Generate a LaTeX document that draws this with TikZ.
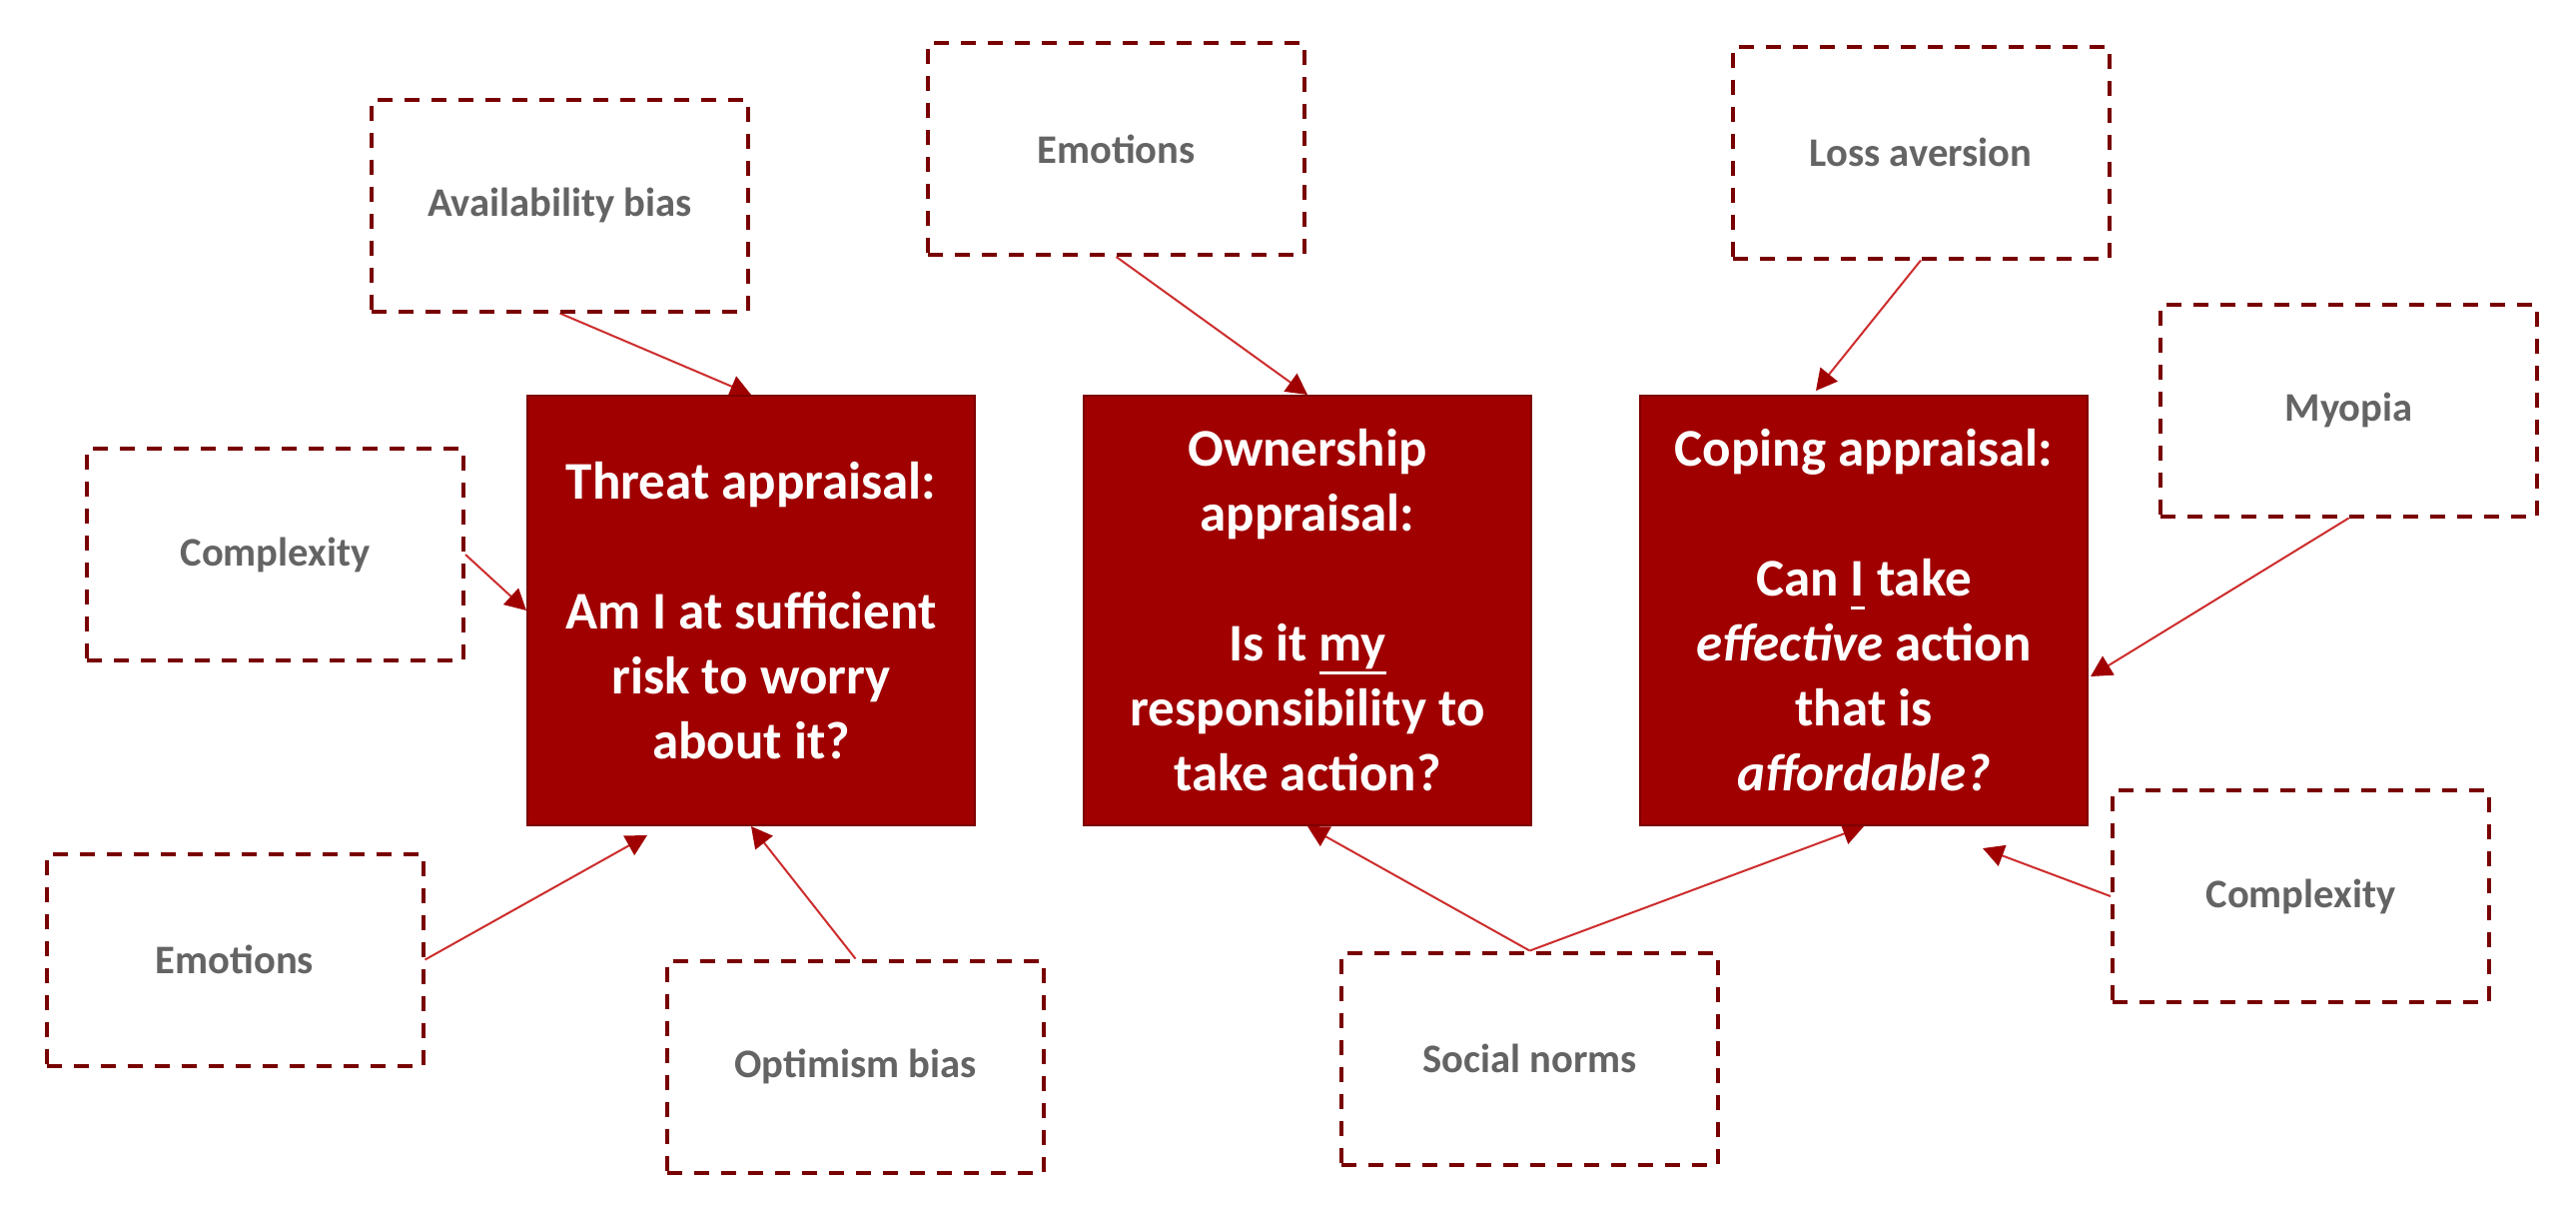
\documentclass[tikz,border=0pt]{standalone}
\usepackage{fontspec}
\setmainfont{Carlito}
\usetikzlibrary{arrows.meta}
\definecolor{mainred}{RGB}{160,0,0}
\definecolor{edgered}{RGB}{125,0,0}
\definecolor{dashred}{RGB}{120,0,0}
\definecolor{linered}{RGB}{205,45,45}
\definecolor{labelgray}{RGB}{100,100,100}
\pgfdeclarelayer{bg}
\pgfsetlayers{bg,main}
\newsavebox{\ulbox}
\newcommand{\ulin}[1]{\sbox{\ulbox}{#1}\rlap{\rule[-0.25em]{\wd\ulbox}{0.065em}}\usebox{\ulbox}}
\begin{document}
\begin{tikzpicture}[x=0.5pt,y=-0.5pt,
  mainbox/.style={draw=edgered, line width=1pt, fill=mainred, text=white,
    minimum width=224pt, minimum height=215pt, inner sep=0pt, align=center,
    font=\fontsize{26.5}{32.5}\selectfont\bfseries},
  dashbox/.style={draw=dashred, line width=2pt, dash pattern=on 7.5pt off 6pt,
    fill=white, minimum width=188.5pt, minimum height=106pt, inner sep=0pt,
    text=labelgray, font=\fontsize{20.3}{24}\selectfont\bfseries},
  conn/.style={draw=linered, line width=1pt,
    -{Triangle[length=10.5pt,width=11pt,color=mainred]}}]
\useasboundingbox (0,0) rectangle (2579,1207);

% main appraisal boxes
\node[mainbox] (threat) at (752,611)
  {Threat appraisal:\\[32.5pt]Am I at sufficient\\risk to worry\\about it?};
\node[mainbox] (owner) at (1309,611)
  {Ownership\\appraisal:\\[32.5pt]Is it \ulin{my}\\responsibility to\\take action?};
\node[mainbox] (coping) at (1866,611)
  {Coping appraisal:\\[32.5pt]Can \ulin{I} take\\\textit{effective} action\\that is\\\textit{affordable?}};

% influencing factors
\node[dashbox] (avail)  at (560.5,205.5) {Availability bias};
\node[dashbox] (emotop) at (1117.5,149)  {Emotions};
\node[dashbox] (compL)  at (275.5,555)   {Complexity};
\node[dashbox] (emoBL)  at (235,960.5)   {Emotions};
\node[dashbox] (optim)  at (856.5,1067.5) {Optimism bias};
\node[dashbox] (social) at (1531.5,1059.5) {Social norms};
\node[dashbox] (loss)   at (1923,152.5)  {Loss aversion};
\node[dashbox] (myopia) at (2351.5,410.5) {Myopia};
\node[dashbox] (compR)  at (2303.5,897)  {Complexity};

% free arrow ends
\coordinate (tipA) at (648,836);
\coordinate (tipB) at (1818,391);
\coordinate (tipC) at (2093,677);
\coordinate (tipD) at (1985,849);

\begin{pgfonlayer}{bg}
\draw[conn] (avail.south) -- (threat.north);
\draw[conn] (emotop.south) -- (owner.north);
\draw[conn] (compL.east) -- (threat.west);
\draw[conn] (emoBL.east) -- (tipA);
\draw[conn] (optim.north) -- (threat.south);
\draw[conn] (social.north) -- (owner.south);
\draw[conn] (social.north) -- (coping.south);
\draw[conn] (loss.south) -- (tipB);
\draw[conn] (myopia.south) -- (tipC);
\draw[conn] (compR.west) -- (tipD);
\end{pgfonlayer}
\end{tikzpicture}
\end{document}
